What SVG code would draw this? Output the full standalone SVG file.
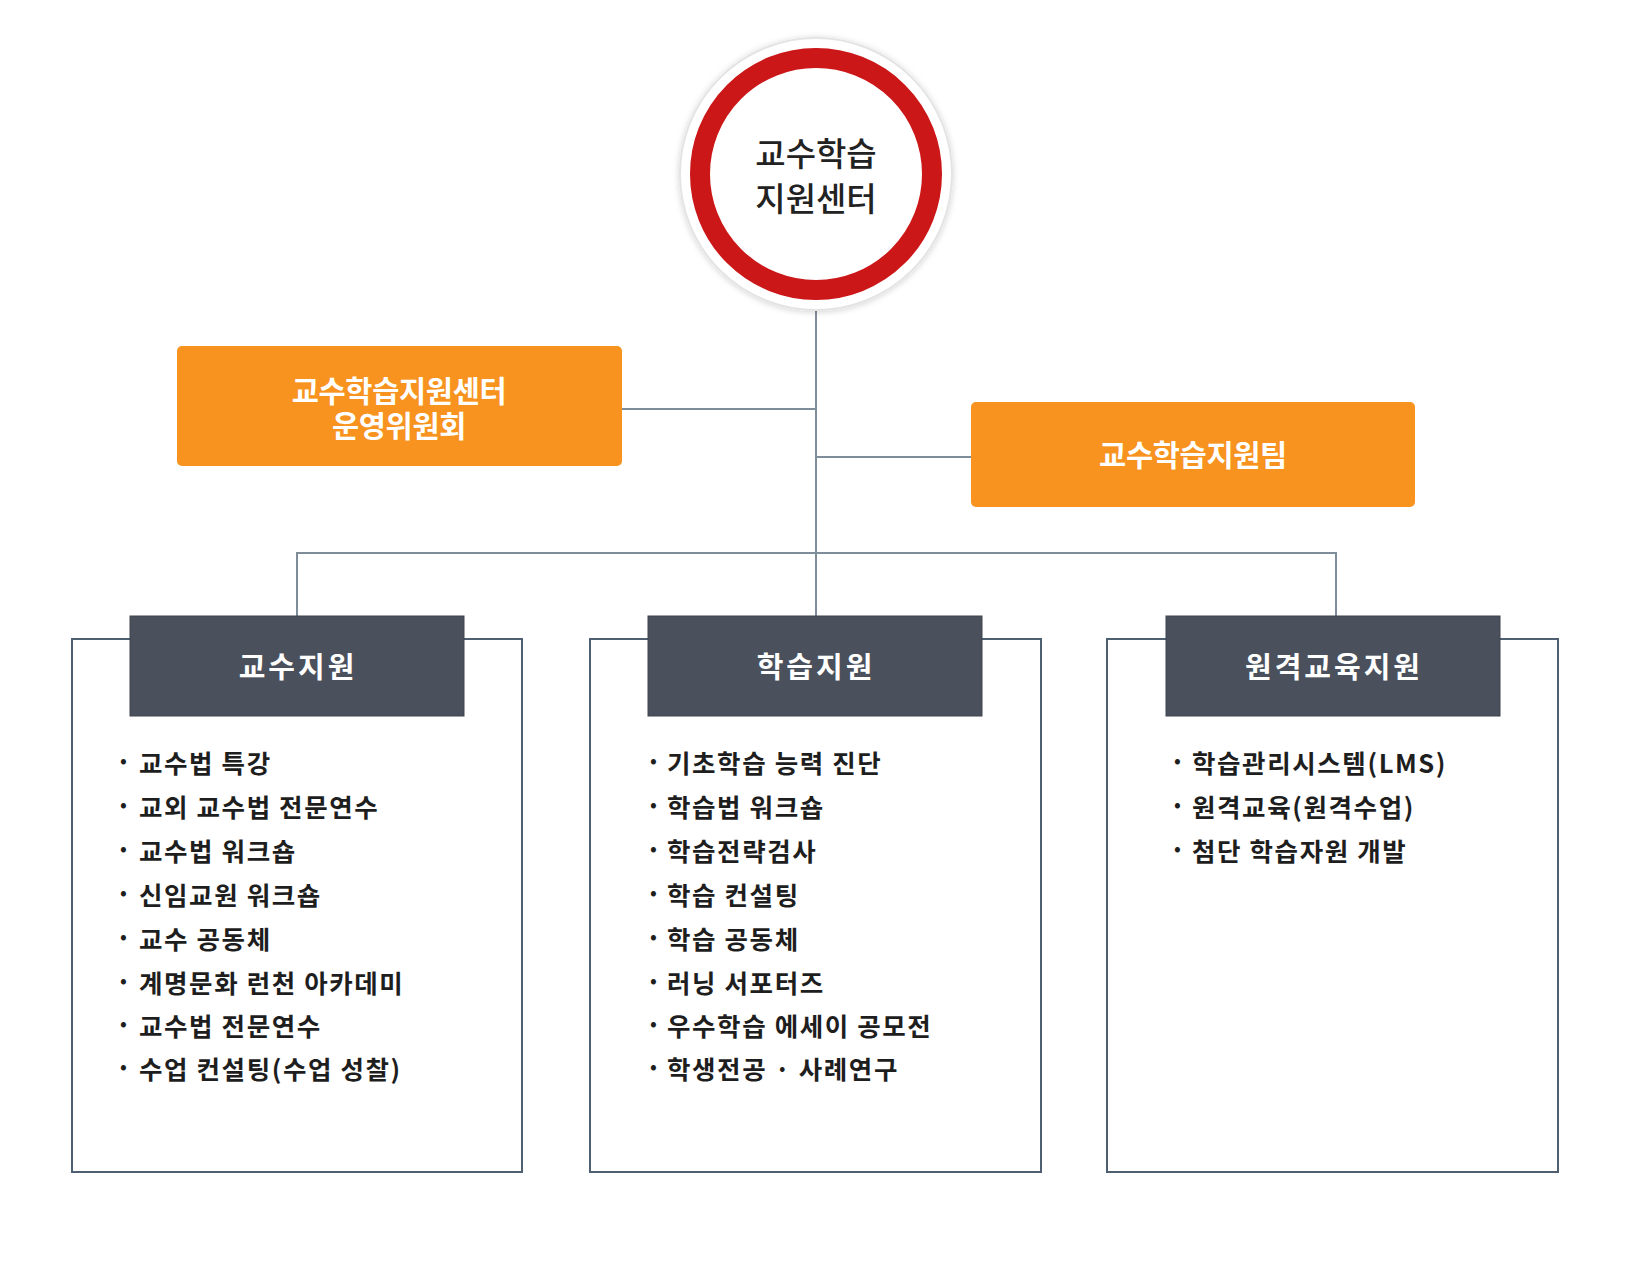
<svg xmlns="http://www.w3.org/2000/svg" width="1630" height="1276" viewBox="0 0 1630 1276">
  <defs>
    <filter id="soft" x="-20%" y="-20%" width="140%" height="140%">
      <feDropShadow dx="0" dy="1" stdDeviation="3" flood-color="#000" flood-opacity="0.18"/>
    </filter>
    <style>
      .conn { stroke: #7f8c99; stroke-width: 2; fill: none; }
      .orange { fill: #F7931E; }
      .otext { fill: #ffffff; font-family: "Noto Sans CJK KR", "Noto Sans", sans-serif; font-weight: 700; font-size: 29.5px; letter-spacing: -0.3px; text-anchor: middle; }
      .panel { fill: #ffffff; stroke: #4d5f70; stroke-width: 2; }
      .head { fill: #4A515C; stroke: #3f454e; stroke-width: 1; }
      .htext { fill: #ffffff; font-family: "Noto Sans CJK KR", "Noto Sans", sans-serif; font-weight: 700; font-size: 29px; letter-spacing: 3px; text-anchor: middle; }
      .item { fill: #1e1e1e; font-family: "Noto Sans CJK KR", "Noto Sans", sans-serif; font-weight: 700; font-size: 25.5px; letter-spacing: 1.6px; }
      .bul { font-size: 18px; }
      .ctext { fill: #222222; font-family: "Noto Sans CJK KR", "Noto Sans", sans-serif; font-weight: 500; font-size: 33px; text-anchor: middle; }
    </style>
  </defs>
  <rect width="1630" height="1276" fill="#ffffff"/>

  <g id="connectors">
    <line class="conn" x1="816" y1="310" x2="816" y2="616"/>
    <line class="conn" x1="622" y1="409" x2="816" y2="409"/>
    <line class="conn" x1="816" y1="457" x2="971" y2="457"/>
    <polyline class="conn" points="297,616 297,553 1336,553 1336,616"/>
  </g>

  <g id="center">
    <circle cx="816" cy="174" r="136" fill="#ffffff" stroke="#e4e4e4" stroke-width="2" filter="url(#soft)"/>
    <circle cx="816" cy="174" r="116" fill="#ffffff" stroke="#CC1719" stroke-width="20"/>
    <text class="ctext" x="816" y="166">교수학습<tspan x="816" y="211">지원센터</tspan></text>
  </g>

  <g id="committee">
    <rect class="orange" x="177" y="346" width="445" height="120" rx="5"/>
    <text class="otext" x="399" y="402">교수학습지원센터<tspan x="399" y="437">운영위원회</tspan></text>
  </g>

  <g id="team">
    <rect class="orange" x="971" y="402" width="444" height="105" rx="5"/>
    <text class="otext" x="1193" y="466">교수학습지원팀</text>
  </g>

  <g id="teaching">
    <rect class="panel" x="72" y="639" width="450" height="533"/>
    <rect class="head" x="130" y="616" width="334" height="100"/>
    <text class="htext" x="298" y="678">교수지원</text>
    <g class="item">
      <text x="120" y="773"><tspan class="bul" dy="-6">•</tspan><tspan x="139" dy="6">교수법 특강</tspan></text>
      <text x="120" y="817"><tspan class="bul" dy="-6">•</tspan><tspan x="139" dy="6">교외 교수법 전문연수</tspan></text>
      <text x="120" y="861"><tspan class="bul" dy="-6">•</tspan><tspan x="139" dy="6">교수법 워크숍</tspan></text>
      <text x="120" y="905"><tspan class="bul" dy="-6">•</tspan><tspan x="139" dy="6">신임교원 워크숍</tspan></text>
      <text x="120" y="949"><tspan class="bul" dy="-6">•</tspan><tspan x="139" dy="6">교수 공동체</tspan></text>
      <text x="120" y="993"><tspan class="bul" dy="-6">•</tspan><tspan x="139" dy="6">계명문화 런천 아카데미</tspan></text>
      <text x="120" y="1036"><tspan class="bul" dy="-6">•</tspan><tspan x="139" dy="6">교수법 전문연수</tspan></text>
      <text x="120" y="1079"><tspan class="bul" dy="-6">•</tspan><tspan x="139" dy="6">수업 컨설팅(수업 성찰)</tspan></text>
    </g>
  </g>

  <g id="learning">
    <rect class="panel" x="590" y="639" width="451" height="533"/>
    <rect class="head" x="648" y="616" width="334" height="100"/>
    <text class="htext" x="816" y="678">학습지원</text>
    <g class="item">
      <text x="650" y="773"><tspan class="bul" dy="-6">•</tspan><tspan x="667" dy="6">기초학습 능력 진단</tspan></text>
      <text x="650" y="817"><tspan class="bul" dy="-6">•</tspan><tspan x="667" dy="6">학습법 워크숍</tspan></text>
      <text x="650" y="861"><tspan class="bul" dy="-6">•</tspan><tspan x="667" dy="6">학습전략검사</tspan></text>
      <text x="650" y="905"><tspan class="bul" dy="-6">•</tspan><tspan x="667" dy="6">학습 컨설팅</tspan></text>
      <text x="650" y="949"><tspan class="bul" dy="-6">•</tspan><tspan x="667" dy="6">학습 공동체</tspan></text>
      <text x="650" y="993"><tspan class="bul" dy="-6">•</tspan><tspan x="667" dy="6">러닝 서포터즈</tspan></text>
      <text x="650" y="1036"><tspan class="bul" dy="-6">•</tspan><tspan x="667" dy="6">우수학습 에세이 공모전</tspan></text>
      <text x="650" y="1079"><tspan class="bul" dy="-6">•</tspan><tspan x="667" dy="6">학생전공 · 사례연구</tspan></text>
    </g>
  </g>

  <g id="distance">
    <rect class="panel" x="1107" y="639" width="451" height="533"/>
    <rect class="head" x="1166" y="616" width="334" height="100"/>
    <text class="htext" x="1334" y="678">원격교육지원</text>
    <g class="item">
      <text x="1174" y="773"><tspan class="bul" dy="-6">•</tspan><tspan x="1192" dy="6">학습관리시스템(LMS)</tspan></text>
      <text x="1174" y="817"><tspan class="bul" dy="-6">•</tspan><tspan x="1192" dy="6">원격교육(원격수업)</tspan></text>
      <text x="1174" y="861"><tspan class="bul" dy="-6">•</tspan><tspan x="1192" dy="6">첨단 학습자원 개발</tspan></text>
    </g>
  </g>
</svg>
